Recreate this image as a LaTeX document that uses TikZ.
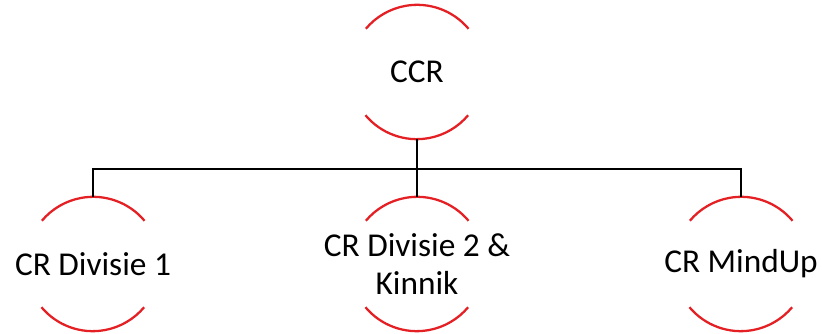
\documentclass[tikz,border=0pt]{standalone}
\usepackage{fontspec}
\setmainfont{Carlito}
\definecolor{arcred}{RGB}{228,32,36}
\begin{document}
\begin{tikzpicture}[x=0.75pt,y=0.75pt,
  unit/.style={circle,inner sep=0pt,minimum size=100.5pt,
    label={[align=center,font=\fontsize{25}{28.5}\selectfont,text=black,inner sep=0pt]center:#1}},
  halfarc/.style={draw=arcred,line width=1.7pt},
  link/.style={draw=black,line width=1.8pt}]
\useasboundingbox (0,0) rectangle (822,-334);
\node[unit={CCR}] (ccr) at (417,-72) {};
\node[unit={CR Divisie 1}] (c1) at (93,-264) {};
\node[unit={CR Divisie 2 \&\\Kinnik}] (c2) at (417,-264) {};
\node[unit={CR MindUp}] (c3) at (741,-264) {};
\coordinate (bus) at (417,-169);
\foreach \n in {ccr,c1,c2,c3}{
  \draw[halfarc] (\n.40) arc (40:140:67);
  \draw[halfarc] (\n.220) arc (220:320:67);
}
\draw[link] (ccr.south) -- (bus);
\draw[link] (c1.north) |- (bus) -| (c3.north);
\draw[link] (bus) -- (c2.north);
\end{tikzpicture}
\end{document}
